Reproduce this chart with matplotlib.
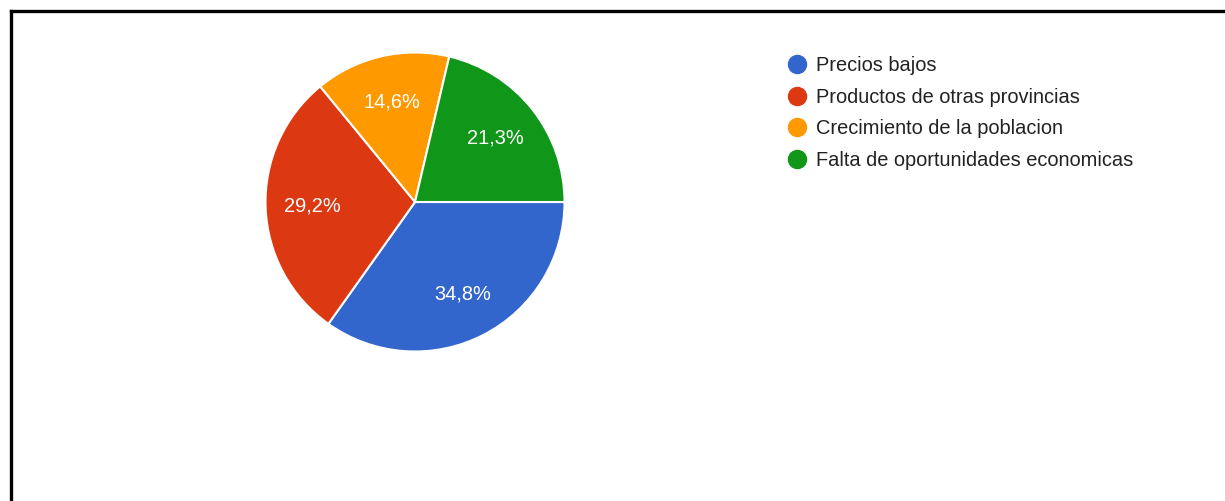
import matplotlib.pyplot as plt
from matplotlib.lines import Line2D

plt.rcParams['font.family'] = ['Liberation Sans', 'DejaVu Sans']

categorias = ['Precios bajos', 'Productos de otras provincias',
              'Crecimiento de la poblacion', 'Falta de oportunidades economicas']
porcentajes = [34.8, 29.2, 14.6, 21.3]
colores = ['#3366CC', '#DC3912', '#FF9900', '#109618']

W, H = 1225, 501
fig = plt.figure(figsize=(W / 100, H / 100), dpi=100)

# marco negro (solo se ven el borde superior e izquierdo)
fig.add_artist(Line2D([10.5 / W, 1.0], [1 - 11 / H, 1 - 11 / H], color='black', lw=2.4,
                      transform=fig.transFigure))
fig.add_artist(Line2D([10.5 / W, 10.5 / W], [1 - 11 / H, 0.0], color='black', lw=2.4,
                      transform=fig.transFigure))

cx, cy, r = 415, 202, 151
ax = fig.add_axes([(cx - r) / W, (H - cy - r) / H, 2 * r / W, 2 * r / H])
wedges, texts, autotexts = ax.pie(
    porcentajes, colors=colores, startangle=0, counterclock=False,
    autopct=lambda p: f'{p:.1f}%'.replace('.', ','), pctdistance=0.69,
    wedgeprops=dict(edgecolor='white', linewidth=1.5),
    textprops=dict(color='white', fontsize=14.4))
ax.set_xlim(-1.01, 1.01)
ax.set_ylim(-1.01, 1.01)
ax.set_aspect('equal')
ax.axis('off')

handles = [Line2D([], [], marker='o', linestyle='none', markersize=13,
                  markerfacecolor=c, markeredgecolor=c) for c in colores]
fig.legend(handles, categorias, loc='upper left',
           bbox_to_anchor=(787 / W, 1 - 56 / H), frameon=False,
           fontsize=14.4, labelspacing=0.63, handlelength=1.0, handletextpad=0.45,
           borderaxespad=0, borderpad=0, labelcolor='#222222')

fig.savefig('out.png', dpi=100, facecolor='white')
